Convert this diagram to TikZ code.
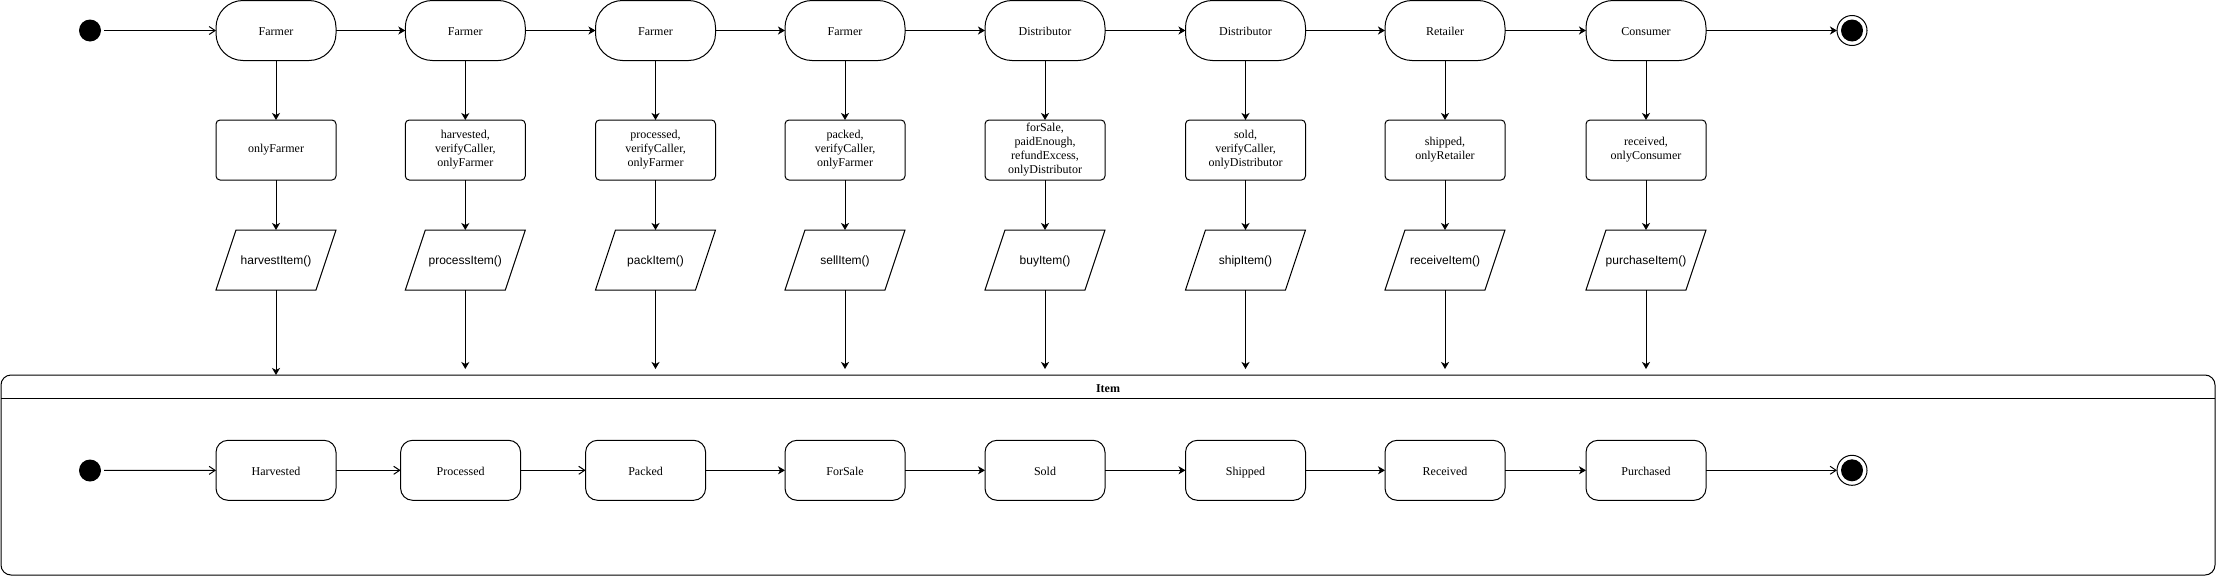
\documentclass[tikz,border=0pt]{standalone}
\usepackage{fontspec}
\setmainfont{Liberation Serif}
\newfontfamily\arialf{Liberation Sans}
\usetikzlibrary{arrows.meta}
\begin{document}
\begin{tikzpicture}[x=1pt,y=-1pt,line width=1pt,
 every node/.style={font=\fontsize{12}{14}\selectfont, inner sep=0pt, outer sep=0pt},
 actor/.style={draw, minimum width=120pt, minimum height=60pt, rounded corners=27pt, text height=12pt, text depth=2pt},
 guard/.style={draw, minimum width=120pt, minimum height=60pt, rounded corners=4pt, align=center},
 io/.style={minimum width=120pt, minimum height=60pt, text height=11.5pt, text depth=2.5pt, font=\arialf\fontsize{12}{14}\selectfont},
 st/.style={draw, minimum width=120pt, minimum height=60pt, rounded corners=12pt, text height=12pt, text depth=2pt},
 start/.style={circle, fill, minimum size=22pt, outer sep=3pt},
 finish/.style={circle, draw, minimum size=30pt, path picture={\fill (path picture bounding box.center) circle (11pt);}},
 fa/.style={-{Stealth[length=7pt,width=8pt,inset=2pt]}},
 oa/.style={-{Straight Barb[length=6pt,width=8pt]}},
]
\useasboundingbox (0,0) rectangle (2216,576);

% top row
\node[start] (s0) at (90,30.5) {};
\node[actor] (a1) at (276,30.5) {Farmer};
\node[actor] (a2) at (465.3,30.5) {Farmer};
\node[actor] (a3) at (655.5,30.5) {Farmer};
\node[actor] (a4) at (845,30.5) {Farmer};
\node[actor] (a5) at (1045,30.5) {Distributor};
\node[actor] (a6) at (1245.5,30.5) {Distributor};
\node[actor] (a7) at (1445,30.5) {Retailer};
\node[actor] (a8) at (1646,30.5) {Consumer};
\node[finish] (e0) at (1852,30.5) {};

% guards
\node[guard] (g1) at (276,150) {onlyFarmer};
\node[guard] (g2) at (465.3,150) {harvested,\\verifyCaller,\\onlyFarmer};
\node[guard] (g3) at (655.5,150) {processed,\\verifyCaller,\\onlyFarmer};
\node[guard] (g4) at (845,150) {packed,\\verifyCaller,\\onlyFarmer};
\node[guard] (g5) at (1045,150) {forSale,\\paidEnough,\\refundExcess,\\onlyDistributor};
\node[guard] (g6) at (1245.5,150) {sold,\\verifyCaller,\\onlyDistributor};
\node[guard] (g7) at (1445,150) {shipped,\\onlyRetailer};
\node[guard] (g8) at (1646,150) {received,\\onlyConsumer};

% functions
\node[io] (p1) at (276,260) {harvestItem()};
\node[io] (p2) at (465.3,260) {processItem()};
\node[io] (p3) at (655.5,260) {packItem()};
\node[io] (p4) at (845,260) {sellItem()};
\node[io] (p5) at (1045,260) {buyItem()};
\node[io] (p6) at (1245.5,260) {shipItem()};
\node[io] (p7) at (1445,260) {receiveItem()};
\node[io] (p8) at (1646,260) {purchaseItem()};
\foreach \p in {p1,p2,p3,p4,p5,p6,p7,p8}
  \draw ([xshift=20pt]\p.north west) -- (\p.north east) -- ([xshift=-20pt]\p.south east) -- (\p.south west) -- cycle;

% container
\node[draw, rounded corners=10pt, minimum width=2214pt, minimum height=200pt] (item) at (1108,475) {};
\coordinate (hdr) at (0,398);
\draw (item.west |- hdr) -- (item.east |- hdr);
\node[font=\bfseries\fontsize{12}{14}\selectfont] (itemlbl) at (1108,388.5) {Item};

% bottom row
\node[start] (s1) at (90,470.5) {};
\node[st] (b1) at (276,470.3) {Harvested};
\node[st] (b2) at (460.6,470.3) {Processed};
\node[st] (b3) at (645.6,470.3) {Packed};
\node[st] (b4) at (845,470.3) {ForSale};
\node[st] (b5) at (1045,470.3) {Sold};
\node[st] (b6) at (1245.5,470.3) {Shipped};
\node[st] (b7) at (1445,470.3) {Received};
\node[st] (b8) at (1646,470.3) {Purchased};
\node[finish] (e1) at (1852,470.3) {};

% top connectors
\draw[oa] (s0) -- (a1);
\draw[fa] (a1) -- (a2);
\draw[fa] (a2) -- (a3);
\draw[fa] (a3) -- (a4);
\draw[fa] (a4) -- (a5);
\draw[fa] (a5) -- (a6);
\draw[fa] (a6) -- (a7);
\draw[fa] (a7) -- (a8);
\draw[fa] (a8) -- (e0);

% vertical connectors
\foreach \i in {1,...,8} {
  \draw[fa] (a\i) -- (g\i);
  \draw[fa] (g\i) -- (p\i);
}
\draw[fa] (p1) -- (p1 |- item.north);
\foreach \i in {2,...,8}
  \draw[fa] (p\i) -- ([yshift=6pt]p\i.south |- item.north);

% bottom connectors
\draw[oa] (s1) -- (b1);
\draw[oa] (b1) -- (b2);
\draw[oa] (b2) -- (b3);
\draw[fa] (b3) -- (b4);
\draw[fa] (b4) -- (b5);
\draw[fa] (b5) -- (b6);
\draw[fa] (b6) -- (b7);
\draw[fa] (b7) -- (b8);
\draw[oa] (b8) -- (e1);
\end{tikzpicture}
\end{document}
